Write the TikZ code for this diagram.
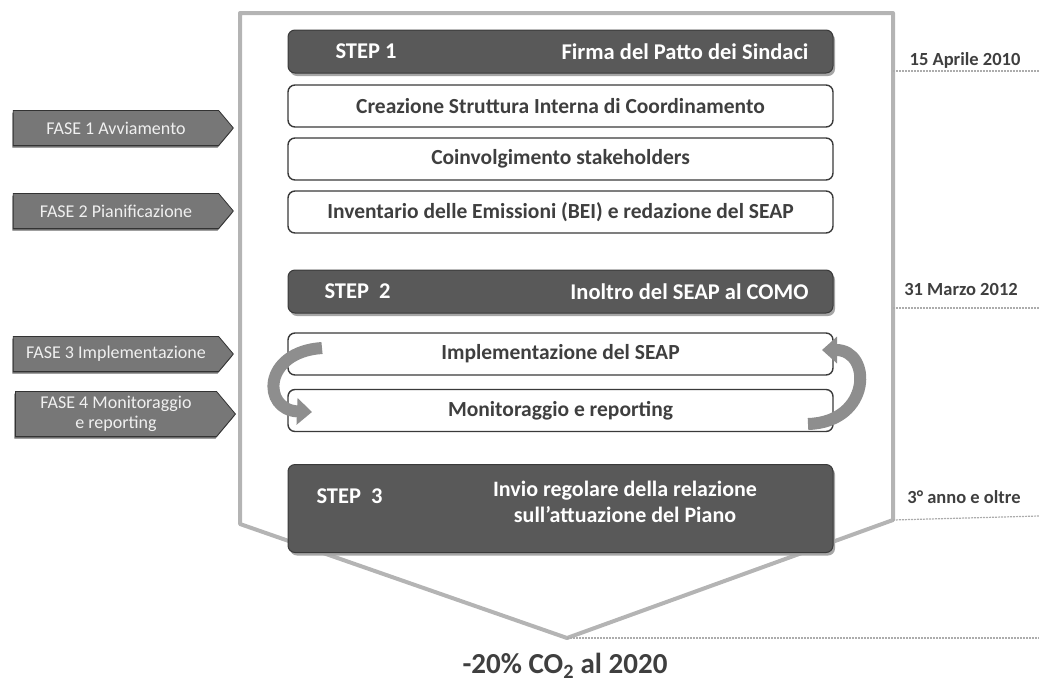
\documentclass[tikz,border=0pt]{standalone}
\usepackage{fontspec}
\setmainfont{Carlito}
\usetikzlibrary{shapes.symbols,shadows,arrows.meta}
\definecolor{darkbox}{HTML}{595959}
\definecolor{boxline}{HTML}{3A3A3A}
\definecolor{boxtext}{HTML}{3F3F3F}
\definecolor{frame}{HTML}{B4B4B4}
\definecolor{fasefill}{HTML}{777777}
\definecolor{cyclefill}{HTML}{8E8E8E}
\tikzset{
  darkstep/.style={draw=boxline, fill=darkbox, rounded corners=7pt, line width=1pt,
    minimum width=545pt, drop shadow={shadow xshift=2pt, shadow yshift=-3pt, fill=gray!70, opacity=1}},
  actbox/.style={draw=boxline, fill=white, rounded corners=7pt, line width=1.4pt,
    minimum width=545pt, minimum height=42pt},
  steptxt/.style={text=white, font=\bfseries\fontsize{22.5}{26}\selectfont},
  acttxt/.style={text=boxtext, font=\bfseries\fontsize{21.5}{26}\selectfont},
  fase/.style={signal, signal to=east, signal pointer angle=100, fill=fasefill,
    draw=gray!40!black, line width=0.8pt, minimum width=220pt, minimum height=35pt,
    inner sep=0pt, text=white!94!black, font=\fontsize{18}{20}\selectfont, align=center,
    drop shadow={shadow xshift=-1pt, shadow yshift=-2pt, fill=gray!85!black, opacity=1}},
  datetxt/.style={text=boxtext, font=\bfseries\fontsize{18.5}{21}\selectfont},
  dateline/.style={gray!65, line width=1.2pt, dash pattern=on 2pt off 1pt},
  cycle/.style={line width=12pt, draw=cyclefill, -{Triangle[length=15pt,width=26pt]}}
}
\begin{document}
\begin{tikzpicture}[x=1pt,y=-1pt]
\useasboundingbox (0,0) rectangle (1039,686);
%		frame
\coordinate (ftl) at (240,13);
\coordinate (ftr) at (893,13);
\coordinate (fbr) at (893,520);
\coordinate (fbl) at (240,524);
\coordinate (tip) at (567,638);
\draw[frame, line width=4pt, line join=round] (fbl) -- (ftl) -- (ftr) -- (fbr) -- (tip) -- cycle;
%		steps
\node[darkstep, minimum height=43pt] (s1) at (560.5,51.5) {};
\node[steptxt, anchor=west] at (332,51.5) {STEP 1};
\node[steptxt, anchor=east] at (812,51.5) {Firma del Patto dei Sindaci};
\node[actbox] (a1) at (560.5,106) {};
\node[acttxt] at (560.5,106) {Creazione Struttura Interna di Coordinamento};
\node[actbox] (a2) at (560.5,159) {};
\node[acttxt] at (560.5,159) {Coinvolgimento stakeholders};
\node[actbox] (a3) at (560.5,212) {};
\node[acttxt] at (560.5,212) {Inventario delle Emissioni (BEI) e redazione del SEAP};
\node[darkstep, minimum height=43pt] (s2) at (560.5,291.5) {};
\node[steptxt, anchor=west] at (321,291.5) {STEP\ \ 2};
\node[steptxt, anchor=east] at (812,291.5) {Inoltro del SEAP al COMO};
\node[actbox] (a4) at (560.5,354) {};
\node[acttxt] at (560.5,354) {Implementazione del SEAP};
\node[actbox] (a5) at (560.5,410.5) {};
\node[acttxt] at (560.5,410.5) {Monitoraggio e reporting};
\node[darkstep, minimum height=88pt] (s3) at (560.5,508.5) {};
\node[steptxt, anchor=west] at (313,496) {STEP\ \ 3};
\node[steptxt, align=center, font=\bfseries\fontsize{22}{26}\selectfont] at (625,502) {Invio regolare della relazione\\sull’attuazione del Piano};
%		cycle arrows
\draw[cycle] (322,348) .. controls (262,352) and (262,410) .. (312,412);
\draw[cycle] (808,424) .. controls (872,422) and (872,350) .. (822,350);
%		phases
\node[fase] (f1) at (116,128) {FASE 1 Avviamento};
\node[fase] (f2) at (116,211) {FASE 2 Pianificazione};
\node[fase] (f3) at (116,354) {FASE 3 Implementazione};
\node[fase, minimum height=45pt] (f4) at (116,414) {FASE 4 Monitoraggio\\e reporting};
%		dates
\node[datetxt] (d1) at (965,60) {15 Aprile 2010};
\node[datetxt] (d2) at (961,289) {31 Marzo 2012};
\node[datetxt] (d3) at (964,497) {3° anno e oltre};
\coordinate (e1) at (1039,71);
\coordinate (e2) at (1039,308);
\coordinate (e3) at (1039,516);
\coordinate (e4) at (1039,638);
\draw[dateline] (893,71) -- (e1);
\draw[dateline] (893,308) -- (e2);
\draw[dateline] (fbr) -- (e3);
\draw[dateline] (tip) -- (e4);
%		target
\node[text=boxtext, font=\bfseries\fontsize{29}{32}\selectfont] (goal) at (565,666) {-20\% CO\textsubscript{2} al 2020};
\end{tikzpicture}
\end{document}
